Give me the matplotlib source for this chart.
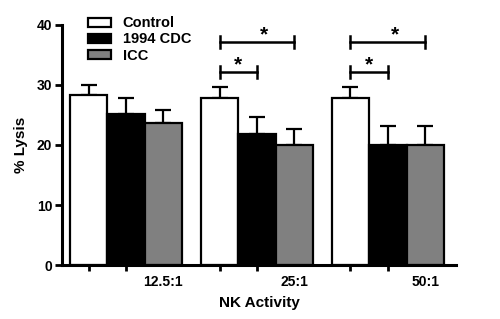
"""
Grouped bar chart of NK activity (% lysis) with significance brackets.
"""

import numpy as np
import matplotlib
matplotlib.use("Agg")
import matplotlib.pyplot as plt

plt.rcParams["font.family"] = ["Liberation Sans", "DejaVu Sans"]
plt.rcParams["font.weight"] = "bold"

RATIOS = ["12.5:1", "25:1", "50:1"]
SERIES = ["Control", "1994 CDC", "ICC"]
COLORS = ["white", "black", "#808080"]
MEANS = [
    [28.4, 27.9, 27.9],   # Control
    [25.1, 21.8, 20.0],   # 1994 CDC
    [23.6, 20.0, 20.0],   # ICC
]
ERRORS = [
    [1.6, 1.8, 1.8],
    [2.7, 2.8, 3.2],
    [2.2, 2.6, 3.2],
]
# (group, from series, to series, height)
BRACKETS = [
    (1, 0, 2, 37.2),
    (1, 0, 1, 32.2),
    (2, 0, 2, 37.2),
    (2, 0, 1, 32.2),
]


def create_bar_chart() -> None:
    fig = plt.figure(figsize=(5.0, 3.19), dpi=100)
    ax = fig.add_axes([0.124, 0.169, 0.788, 0.753])

    group_step = 3.5
    pos = {}
    for s, name in enumerate(SERIES):
        xs = np.arange(len(RATIOS)) * group_step + s
        for g, x in enumerate(xs):
            pos[(g, s)] = x
        ax.bar(xs, MEANS[s], width=1.0, color=COLORS[s], edgecolor="black",
               linewidth=1.6, label=name, zorder=2)
        ax.errorbar(xs, MEANS[s], yerr=[np.zeros(3), ERRORS[s]],
                    fmt="none", ecolor="black", elinewidth=1.6, capsize=6,
                    capthick=1.6, zorder=1)

    for g, s1, s2, h in BRACKETS:
        x1, x2 = pos[(g, s1)], pos[(g, s2)]
        ax.plot([x1, x2], [h, h], color="black", lw=1.8, clip_on=False)
        ax.plot([x1, x1], [h - 1.0, h + 1.0], color="black", lw=1.8, clip_on=False)
        ax.plot([x2, x2], [h - 1.0, h + 1.0], color="black", lw=1.8, clip_on=False)
        off = 0.2 if s2 - s1 == 2 else 0.0
        ax.text((x1 + x2) / 2 + off, h - 0.4, "*", ha="center", va="bottom",
                fontsize=15, fontweight="bold")

    ax.set_xlim(-0.71, 9.82)
    ax.set_ylim(0, 40)
    ax.set_yticks([0, 10, 20, 30, 40])

    label_pos = [pos[(g, 2)] for g in range(3)]
    tick_pos = [pos[(g, s)] for g in range(3) for s in range(2)]
    ax.set_xticks(label_pos)
    ax.set_xticklabels(RATIOS)
    ax.set_xticks(tick_pos, minor=True)
    ax.tick_params(axis="x", which="major", length=0, pad=7, labelsize=10)
    ax.tick_params(axis="x", which="minor", length=4, width=2)
    ax.tick_params(axis="y", length=5, width=2, labelsize=10, pad=2)

    for side in ["top", "right"]:
        ax.spines[side].set_visible(False)
    for side in ["left", "bottom"]:
        ax.spines[side].set_linewidth(2.2)

    ax.set_xlabel("NK Activity", fontsize=11, fontweight="bold", labelpad=5)
    ax.set_ylabel("% Lysis", fontsize=11, fontweight="bold", labelpad=6)

    ax.legend(loc="upper left", bbox_to_anchor=(0.05, 1.06), frameon=False,
              fontsize=10.5, handlelength=1.6, handleheight=0.55,
              labelspacing=0.15, handletextpad=0.8, borderaxespad=0)

    fig.savefig("out.png", dpi=100)


if __name__ == "__main__":
    create_bar_chart()
